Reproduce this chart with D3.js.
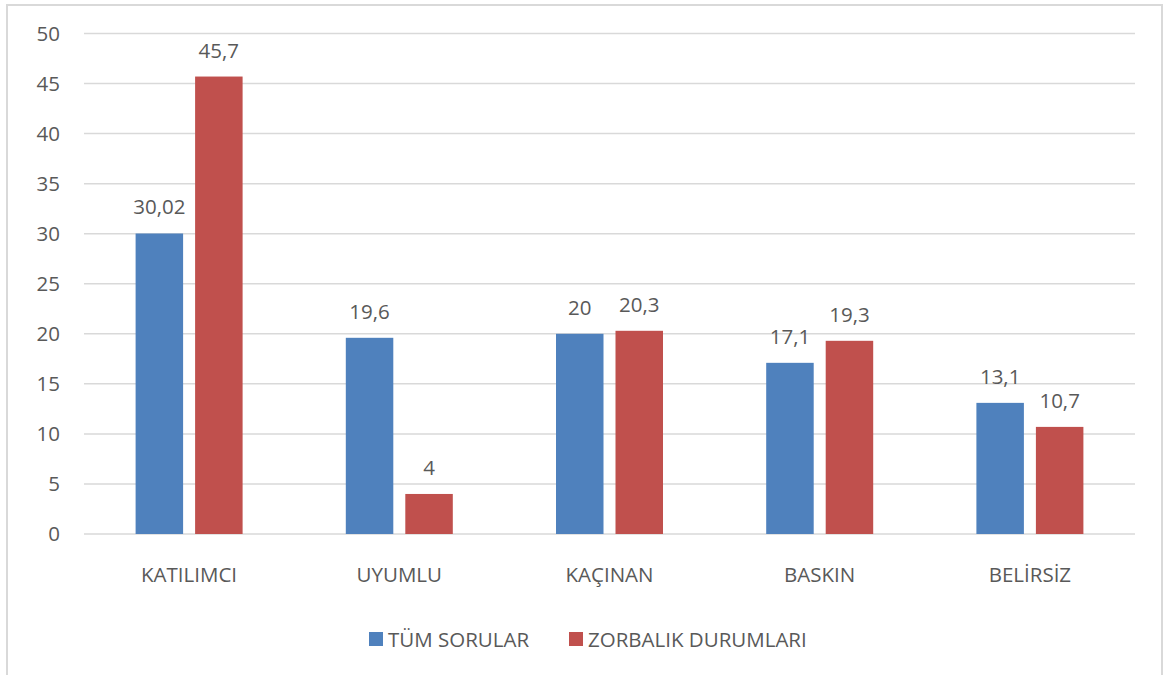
<!DOCTYPE html>
<html>
<head>
<meta charset="utf-8">
<script src="https://cdn.jsdelivr.net/npm/d3@7"></script>
<style>
  body { margin: 0; background: #fff; }
  svg text { font-family: "Open Sans", "Noto Sans", sans-serif; fill: #595959; }
</style>
</head>
<body>
<div id="chart"></div>
<script>
var categories = ["KATILIMCI", "UYUMLU", "KAÇINAN", "BASKIN", "BELİRSİZ"];
var seriesNames = ["TÜM SORULAR", "ZORBALIK DURUMLARI"];
var tumSorular = [30.02, 19.6, 20, 17.1, 13.1];
var zorbalik = [45.7, 4, 20.3, 19.3, 10.7];
var labelsTum = ["30,02", "19,6", "20", "17,1", "13,1"];
var labelsZor = ["45,7", "4", "20,3", "19,3", "10,7"];
var yTicks = [0, 5, 10, 15, 20, 25, 30, 35, 40, 45, 50];
var colors = ["#4F81BD", "#C0504D"];

var width = 1164, height = 675;
var fs = 20.5;
var svg = d3.select("#chart").append("svg")
  .attr("width", width).attr("height", height);

// chart frame (bottom is cut off in the original)
svg.append("path")
  .attr("d", "M7,680 V5 H1162 V680")
  .attr("fill", "none").attr("stroke", "#d9d9d9").attr("stroke-width", 2);

var x0 = d3.scaleBand().domain(categories).range([84, 1135]);
var y = d3.scaleLinear().domain([0, 50]).range([534, 33.5]);

// gridlines
svg.append("g").selectAll("line").data(yTicks).enter().append("line")
  .attr("x1", 84).attr("x2", 1135)
  .attr("y1", function(d){ return y(d); }).attr("y2", function(d){ return y(d); })
  .attr("stroke", "#d9d9d9").attr("stroke-width", 1.5);

// y tick labels
svg.append("g").selectAll("text").data(yTicks).enter().append("text")
  .attr("x", 60).attr("y", function(d){ return y(d); })
  .attr("dy", "0.36em").attr("text-anchor", "end")
  .attr("font-size", fs).text(function(d){ return d; });

var data = categories.map(function(c, i){
  return { cat: c, vals: [
    { s: 0, v: tumSorular[i], lbl: labelsTum[i] },
    { s: 1, v: zorbalik[i], lbl: labelsZor[i] }
  ]};
});

var barW = 47.5, innerGap = 12;
function barX(d, cat){
  var c = x0(cat) + x0.bandwidth() / 2;
  return d.s === 0 ? c - innerGap / 2 - barW : c + innerGap / 2;
}

var groups = svg.append("g").selectAll("g").data(data).enter().append("g");

groups.selectAll("rect").data(function(d){ return d.vals.map(function(v){ v.cat = d.cat; return v; }); })
  .enter().append("rect")
  .attr("x", function(d){ return barX(d, d.cat); })
  .attr("y", function(d){ return y(d.v); })
  .attr("width", barW)
  .attr("height", function(d){ return y(0) - y(d.v); })
  .attr("fill", function(d){ return colors[d.s]; });

groups.selectAll("text").data(function(d){ return d.vals; })
  .enter().append("text")
  .attr("x", function(d){ return barX(d, d.cat) + barW / 2; })
  .attr("y", function(d){ return y(d.v) - 19; })
  .attr("text-anchor", "middle")
  .attr("font-size", fs).text(function(d){ return d.lbl; });

// category labels
svg.append("g").selectAll("text").data(categories).enter().append("text")
  .attr("x", function(d){ return x0(d) + x0.bandwidth() / 2; })
  .attr("y", 582)
  .attr("text-anchor", "middle")
  .attr("font-size", fs).text(function(d){ return d; });

// legend
var legendX = [369, 569];
var legend = svg.append("g").selectAll("g").data(seriesNames).enter().append("g")
  .attr("transform", function(d, i){ return "translate(" + legendX[i] + ",632)"; });
legend.append("rect").attr("width", 14).attr("height", 14)
  .attr("fill", function(d, i){ return colors[i]; });
legend.append("text").attr("x", 19).attr("y", 14.5)
  .attr("font-size", fs).text(function(d){ return d; });
</script>
</body>
</html>
